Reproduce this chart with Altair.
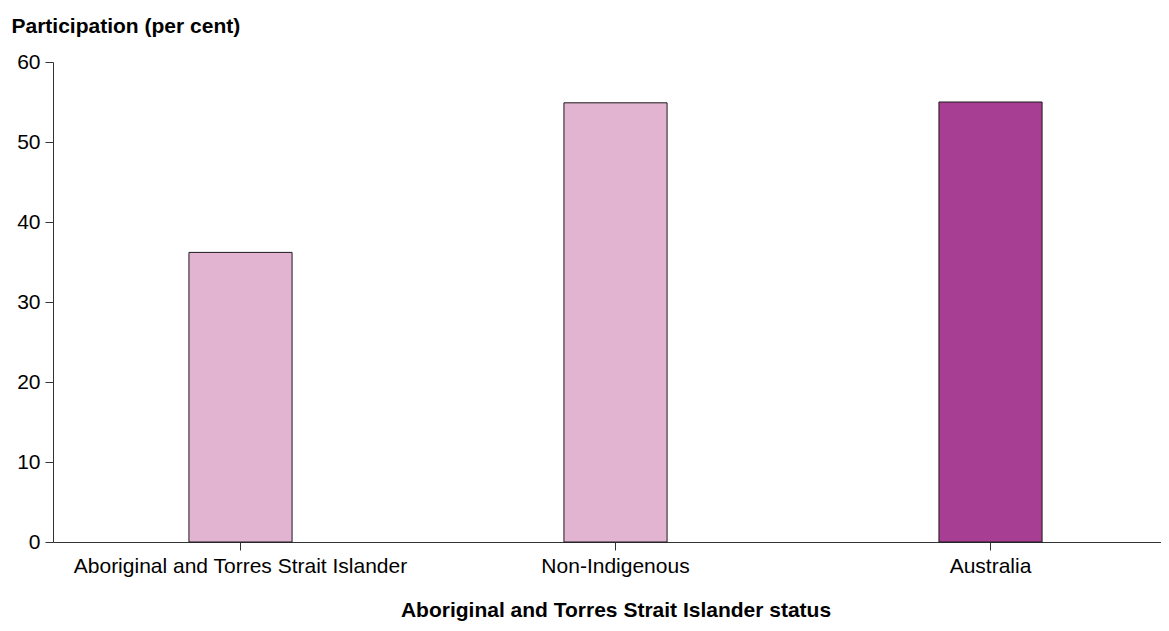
import altair as alt
import pandas as pd

categories = ["Aboriginal and Torres Strait Islander", "Non-Indigenous", "Australia"]
values = [36.2, 54.9, 55.0]
colors = ["#E2B4D2", "#E2B4D2", "#A83E94"]

df = pd.DataFrame({"status": categories, "participation": values, "color": colors})

FONT = "Liberation Sans"
FS = 21

chart = alt.Chart(df).mark_bar(stroke="#1a1a1a", strokeWidth=1).encode(
    x=alt.X(
        "status:N",
        sort=categories,
        scale=alt.Scale(paddingInner=0.725, paddingOuter=0.3625, range=[0, 1125]),
        axis=alt.Axis(
            title="Aboriginal and Torres Strait Islander status",
            titleFont=FONT, titleFontSize=FS, titleFontWeight="bold", titleColor="#000000",
            titlePadding=23,
            labelFont=FONT, labelFontSize=FS, labelColor="#000000", labelAngle=0,
            labelPadding=5, labelLimit=0,
            domainColor="#333333", tickColor="#333333", tickSize=8,
        ),
    ),
    y=alt.Y(
        "participation:Q",
        scale=alt.Scale(domain=[0, 60]),
        axis=alt.Axis(
            title="Participation (per cent)",
            titleFont=FONT, titleFontSize=FS, titleFontWeight="bold", titleColor="#000000",
            titleAngle=0, titleAlign="left", titleBaseline="alphabetic",
            titleX=-42, titleY=-30,
            labelFont=FONT, labelFontSize=FS, labelColor="#000000", labelPadding=5,
            values=[0, 10, 20, 30, 40, 50, 60],
            grid=False,
            domainColor="#333333", tickColor="#333333", tickSize=8,
        ),
    ),
    fill=alt.Fill("color:N", scale=None),
).properties(
    width=1108, height=480,
    padding={"left": 45, "top": 54, "right": 0, "bottom": 80},
    autosize=alt.AutoSizeParams(type="none"),
).configure_view(stroke=None)

chart.save("out.html", embed_options={"renderer": "svg", "actions": False})
